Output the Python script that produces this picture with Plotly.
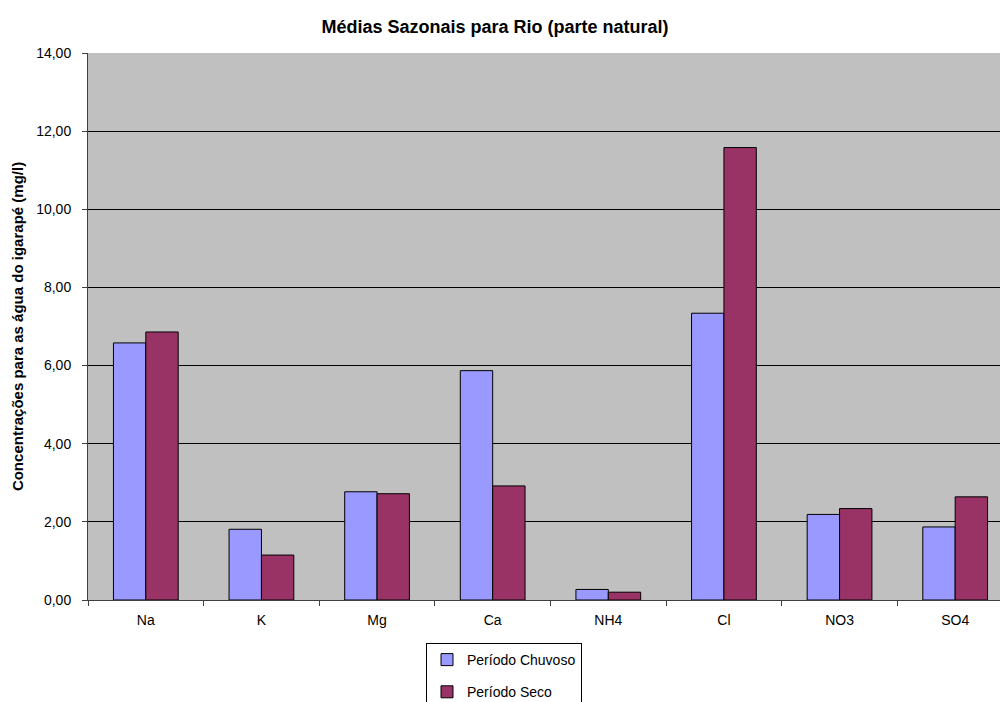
import plotly.graph_objects as go

categories = ["Na", "K", "Mg", "Ca", "NH4", "Cl", "NO3", "SO4"]
chuvoso = [6.58, 1.81, 2.77, 5.87, 0.27, 7.34, 2.19, 1.87]
seco = [6.86, 1.15, 2.72, 2.92, 0.20, 11.58, 2.34, 2.64]
series_names = ["Período Chuvoso", "Período Seco"]
y_ticks = [0, 2, 4, 6, 8, 10, 12, 14]

FONT = "Arial, Liberation Sans, sans-serif"

L, R, T, B = 88, 0, 53, 102
W, H = 1000, 702
PW, PH = W - L - R, H - T - B

fig = go.Figure()
fig.add_trace(go.Bar(x=categories, y=chuvoso, name=series_names[0],
                     marker=dict(color="#9999FF", line=dict(color="black", width=1)),
                     legendgroup="a"))
fig.add_trace(go.Bar(x=categories, y=seco, name=series_names[1],
                     marker=dict(color="#993366", line=dict(color="black", width=1)),
                     legendgroup="b"))

fig.update_layout(
    width=W, height=H,
    margin=dict(l=L, r=R, t=T, b=B, pad=0, autoexpand=False),
    paper_bgcolor="white",
    plot_bgcolor="#C0C0C0",
    separators=",.",
    font=dict(family=FONT, size=14, color="black"),
    barmode="group",
    bargap=0.44,
    bargroupgap=0,
    title=dict(text="<b>Médias Sazonais para Rio (parte natural)</b>",
               x=0.495, xref="container", xanchor="center",
               y=1 - 27 / H, yref="container", yanchor="middle",
               font=dict(family=FONT, size=18, color="black")),
    showlegend=True,
    legend=dict(x=(426 - L) / PW, xanchor="left", xref="paper",
                y=(H - B - 643) / PH, yanchor="top", yref="paper",
                bgcolor="white", bordercolor="black", borderwidth=1,
                font=dict(family=FONT, size=14, color="black"),
                tracegroupgap=11, itemwidth=30,
                entrywidth=116, entrywidthmode="pixels"),
)

fig.update_xaxes(
    range=[-0.5, 7.5 - 13 / 115.7],
    showgrid=False,
    ticks="outside", tickson="boundaries", ticklen=5, tickcolor="#404040",
    showline=True, linecolor="#404040", linewidth=1,
    tickfont=dict(family=FONT, size=14, color="black"),
    ticklabelstandoff=7,
    mirror=False,
)
fig.update_yaxes(
    range=[0, 14],
    tickvals=y_ticks, tickformat=".2f",
    showgrid=True, gridcolor="black", gridwidth=1,
    ticks="outside", ticklen=5, tickcolor="#404040",
    showline=True, linecolor="#404040", linewidth=1,
    tickfont=dict(family=FONT, size=14, color="black"),
    ticklabelstandoff=8,
    zeroline=False,
    title=dict(text="<b>Concentrações para as água do igarapé (mg/l)</b>",
               font=dict(family=FONT, size=15, color="black"), standoff=8),
)

fig.write_html("out.html")
